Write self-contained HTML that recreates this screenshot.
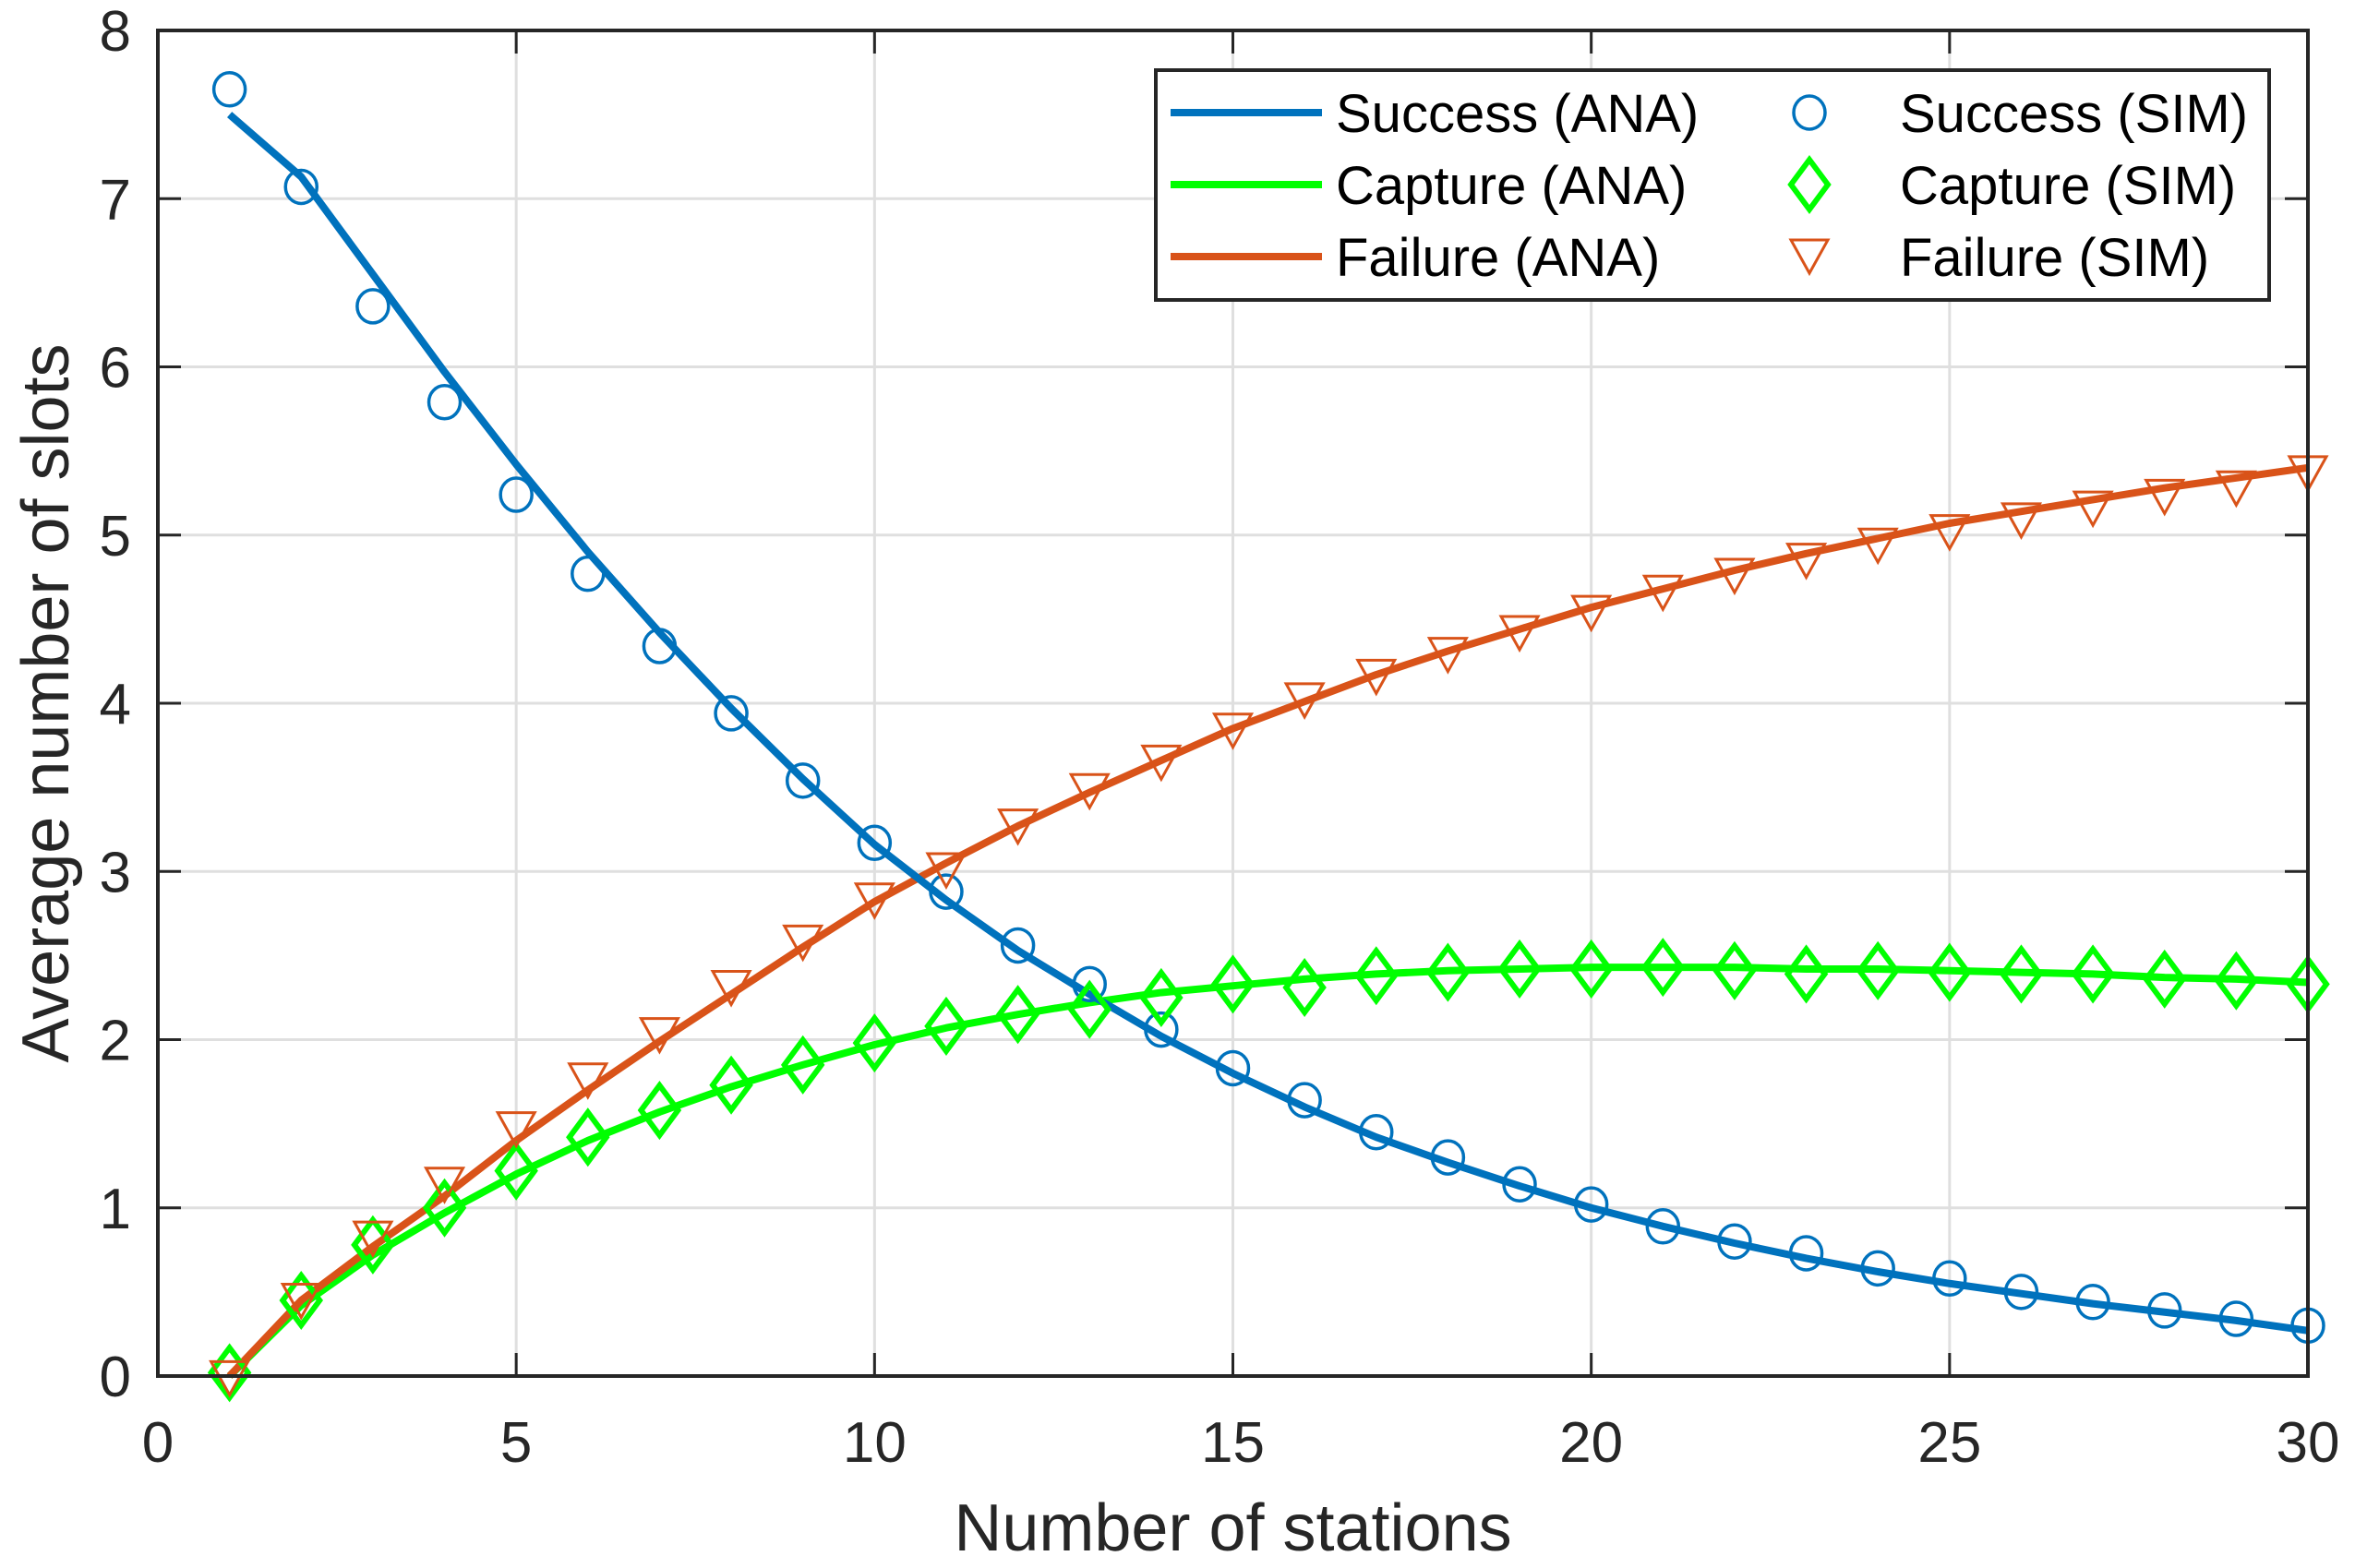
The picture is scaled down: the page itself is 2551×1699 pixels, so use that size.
<!DOCTYPE html>
<html><head><meta charset="utf-8"><style>
html,body{margin:0;padding:0;background:#fff}
svg{display:block;font-family:"Liberation Sans",Arial,sans-serif}
</style></head><body>
<svg id="chart" width="2551" height="1699" viewBox="0 0 2551 1699" xmlns="http://www.w3.org/2000/svg">
<rect x="0" y="0" width="2551" height="1699" fill="#fff"/>
<g id="grid"></g><g id="series"></g><g id="axes"></g><g id="legend"></g>
</svg>
<script>
const stations = [1,2,3,4,5,6,7,8,9,10,11,12,13,14,15,16,17,18,19,20,21,22,23,24,25,26,27,28,29,30];
const successAna = [7.5,7.13,6.55,5.97,5.42,4.90,4.42,3.97,3.55,3.16,2.83,2.53,2.27,2.02,1.80,1.60,1.42,1.27,1.13,1.00,0.89,0.79,0.70,0.62,0.55,0.49,0.43,0.38,0.33,0.27];
const successSim = [7.65,7.07,6.36,5.79,5.24,4.77,4.34,3.94,3.54,3.17,2.88,2.56,2.33,2.06,1.83,1.64,1.45,1.30,1.14,1.02,0.89,0.80,0.73,0.64,0.58,0.50,0.44,0.39,0.34,0.30];
const captureAna = [0,0.42,0.72,0.97,1.20,1.40,1.57,1.72,1.85,1.97,2.07,2.15,2.22,2.28,2.32,2.36,2.39,2.41,2.42,2.43,2.43,2.43,2.42,2.42,2.41,2.40,2.39,2.37,2.36,2.34];
const captureSim = [0.02,0.45,0.78,1.0,1.22,1.42,1.58,1.73,1.85,1.98,2.08,2.15,2.18,2.25,2.33,2.31,2.38,2.40,2.42,2.42,2.43,2.41,2.39,2.41,2.40,2.39,2.39,2.36,2.35,2.33];
const failureAna = [0,0.45,0.77,1.07,1.40,1.70,1.99,2.27,2.55,2.82,3.05,3.27,3.47,3.66,3.85,4.01,4.17,4.31,4.44,4.57,4.68,4.79,4.89,4.98,5.07,5.14,5.21,5.28,5.34,5.40];
const failureSim = [0.02,0.48,0.85,1.17,1.50,1.79,2.06,2.34,2.61,2.86,3.04,3.30,3.51,3.68,3.87,4.05,4.19,4.32,4.45,4.57,4.69,4.79,4.88,4.97,5.05,5.12,5.19,5.26,5.31,5.40];
const xTicks = [0,5,10,15,20,25,30];
const yTicks = [0,1,2,3,4,5,6,7,8];

const L=171,R=2500,T=33,B=1491;
const xs=v=>L+(v-0)/30*(R-L);
const ys=v=>B-(v-0)/8*(B-T);
const NS='http://www.w3.org/2000/svg';
function mk(tag,attrs,parent){const e=document.createElementNS(NS,tag);for(const k in attrs)e.setAttribute(k,attrs[k]);parent.appendChild(e);return e;}
const grid=document.getElementById('grid'),ser=document.getElementById('series'),axes=document.getElementById('axes'),leg=document.getElementById('legend');
const AX='#262626';
xTicks.forEach(t=>{
  const g=mk('line',{x1:xs(t),x2:xs(t),y1:T,y2:B,stroke:'#dfdfdf','stroke-width':3},grid);
  
  
  const a=mk('line',{x1:xs(t),x2:xs(t),y1:B,y2:B-25,stroke:AX,'stroke-width':3},axes);
  
  
  const b=mk('line',{x1:xs(t),x2:xs(t),y1:T,y2:T+25,stroke:AX,'stroke-width':3},axes);
  
  
  const tx=mk('text',{x:xs(t),y:1584,'font-size':62,'text-anchor':'middle',fill:AX},axes);
  tx.textContent=t;
  
  
});
yTicks.forEach(t=>{
  const g=mk('line',{x1:L,x2:R,y1:ys(t),y2:ys(t),stroke:'#dfdfdf','stroke-width':3},grid);
  
  
  const a=mk('line',{x1:L,x2:L+25,y1:ys(t),y2:ys(t),stroke:AX,'stroke-width':3},axes);
  
  
  const b=mk('line',{x1:R,x2:R-25,y1:ys(t),y2:ys(t),stroke:AX,'stroke-width':3},axes);
  
  
  const tx=mk('text',{x:142,y:ys(t)+22,'font-size':62,'text-anchor':'end',fill:AX},axes);
  tx.textContent=t;
  
  
});
const box=mk('rect',{x:L,y:T,width:R-L,height:B-T,fill:'none',stroke:AX,'stroke-width':4},axes);


const xl=mk('text',{x:(L+R)/2,y:1680,'font-size':72,'text-anchor':'middle',fill:AX},axes);
xl.textContent='Number of stations';


const yl=mk('text',{x:0,y:0,'font-size':72,'text-anchor':'middle',fill:AX,transform:'translate(74,'+((T+B)/2)+') rotate(-90)'},axes);
yl.textContent='Average number of slots';



const BLUE='#0072BD',GREEN='#00FF00',ORANGE='#D95319';
function line(vals,color,name){
  const p=mk('polyline',{points:vals.map((v,i)=>xs(stations[i])+','+ys(v)).join(' '),fill:'none',stroke:color,'stroke-width':8,'stroke-linejoin':'round'},ser);
  
  
}
function circle(cx,cy,parent){return mk('ellipse',{cx:cx,cy:cy,rx:17,ry:18,fill:'none',stroke:BLUE,'stroke-width':3.5},parent);}
function diamond(cx,cy,parent){return mk('polygon',{points:`${cx},${cy-27} ${cx+20},${cy} ${cx},${cy+27} ${cx-20},${cy}`,fill:'none',stroke:GREEN,'stroke-width':6},parent);}
function tri(cx,cy,parent){return mk('polygon',{points:`${cx-20},${cy-12} ${cx+20},${cy-12} ${cx},${cy+24}`,fill:'none',stroke:ORANGE,'stroke-width':3},parent);}
line(captureAna,GREEN,'capture-ana-line');
line(failureAna,ORANGE,'failure-ana-line');
line(successAna,BLUE,'success-ana-line');
successSim.forEach((v,i)=>{const m=circle(xs(stations[i]),ys(v),ser);
  
  });
captureSim.forEach((v,i)=>{const m=diamond(xs(stations[i]),ys(v),ser);
  
  });
failureSim.forEach((v,i)=>{const m=tri(xs(stations[i]),ys(v),ser);
  
  });

const lb=mk('rect',{x:1252,y:76,width:1206,height:249,fill:'#fff',stroke:AX,'stroke-width':4},leg);


const rows=[122,200,278];
const labelsA=['Success (ANA)','Capture (ANA)','Failure (ANA)'];
const labelsS=['Success (SIM)','Capture (SIM)','Failure (SIM)'];
const cols=[BLUE,GREEN,ORANGE];
rows.forEach((y,i)=>{
  const l=mk('line',{x1:1268,x2:1432,y1:y,y2:y,stroke:cols[i],'stroke-width':8},leg);
  
  
  const t=mk('text',{x:1447,y:y+21,'font-size':58,fill:'#000'},leg);
  t.textContent=labelsA[i];
  
  
  const m=i===0?circle(1960,y,leg):i===1?diamond(1960,y,leg):tri(1960,y-6,leg);
  
  
  const t2=mk('text',{x:2058,y:y+21,'font-size':58,fill:'#000'},leg);
  t2.textContent=labelsS[i];
  
  
});
</script>
</body></html>
